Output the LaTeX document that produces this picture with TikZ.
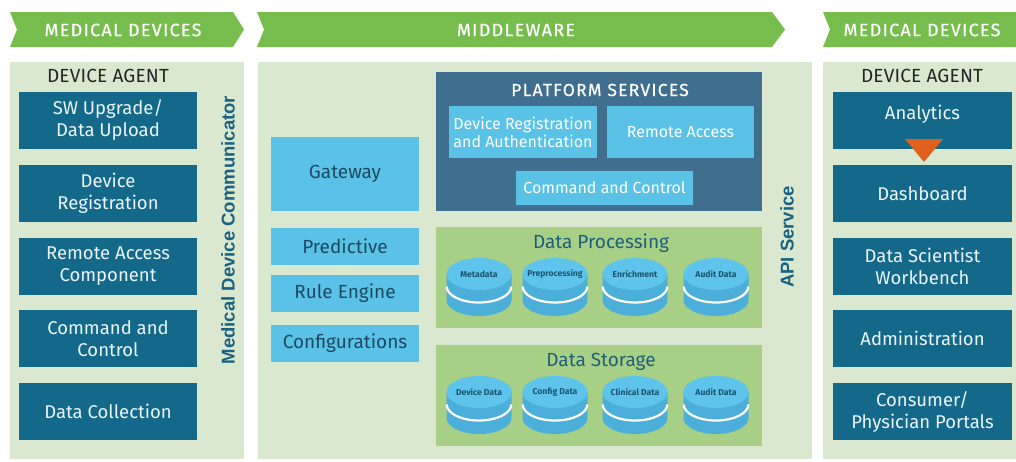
\documentclass[tikz,border=0pt]{standalone}
\usepackage{fontspec}
\setmainfont{Fira Sans}
\newfontfamily\vertfont{Liberation Sans}
\definecolor{bannergreen}{HTML}{77BD4E}
\definecolor{panelbg}{HTML}{DAE8CF}
\definecolor{darkbox}{HTML}{14698A}
\definecolor{platform}{HTML}{3F6E8E}
\definecolor{lightblue}{HTML}{5BC2E7}
\definecolor{midgreen}{HTML}{A8CF86}
\definecolor{tealtext}{HTML}{1F6078}
\definecolor{verttext}{HTML}{1A6282}
\definecolor{gwtext}{HTML}{1D4A62}
\definecolor{orangetri}{HTML}{E0601C}
\definecolor{cyltop}{HTML}{5EC4EC}
\definecolor{cylside}{HTML}{4BAFD9}
\definecolor{cyltext}{HTML}{1B5670}
\definecolor{boxtext}{HTML}{EAF5F8}
\newcommand\dbcyl[4]{%
  \fill[cylside] (#2-32.5,#3+12) -- (#2-32.5,#3+26) arc[start angle=180,end angle=360,x radius=32.5pt,y radius=16pt] -- (#2+32.5,#3+12) -- cycle;
  \fill[cylside] (#2-32.5,#3) -- (#2-32.5,#3+12) arc[start angle=180,end angle=360,x radius=32.5pt,y radius=16pt] -- (#2+32.5,#3) -- cycle;
  \draw[white,line width=2.2pt] (#2-32.3,#3+12.5) arc[start angle=180,end angle=360,x radius=32.3pt,y radius=16pt];
  \fill[cyltop] (#2,#3) ellipse[x radius=32.5pt,y radius=16pt];
  \node[cyllabel] (#1) at (#2,#3) {#4};
}
\begin{document}
\begin{tikzpicture}[x=1pt,y=-1pt,
  banner/.style={fill=bannergreen},
  bannertext/.style={text=white,font=\fontsize{18}{20}\selectfont\addfontfeature{FakeBold=0.5,LetterSpace=7}},
  panel/.style={fill=panelbg},
  agenttitle/.style={text=black!85,font=\fontsize{19}{21}\selectfont\addfontfeature{LetterSpace=1}},
  darkbox/.style={fill=darkbox,text=boxtext,align=center,inner sep=0pt,minimum width=178pt,minimum height=57pt,font=\fontsize{18.5}{22}\selectfont},
  lbox/.style={fill=lightblue,text=gwtext,align=center,inner sep=0pt,minimum width=148pt,font=\fontsize{19}{21}\selectfont},
  psub/.style={fill=lightblue,text=white,align=center,inner sep=0pt,font=\fontsize{16}{18}\selectfont},
  greenpanel/.style={fill=midgreen,minimum width=326pt,minimum height=101pt,inner sep=0pt},
  sectitle/.style={text=tealtext,font=\fontsize{19}{21}\selectfont},
  cyllabel/.style={text=cyltext,font=\fontsize{8.6}{9}\selectfont\bfseries,inner sep=0pt},
  verttitle/.style={rotate=90,text=verttext,font=\vertfont\bfseries\fontsize{18.5}{20}\selectfont}
]
\useasboundingbox (0,0) rectangle (1016,461);
% banners
\fill[banner] (10,12) -- (233,12) -- (244,29.5) -- (233,47) -- (10,47) -- (17,29.5) -- cycle;
\fill[banner] (257,12) -- (772,12) -- (785,29.5) -- (772,47) -- (257,47) -- (264,29.5) -- cycle;
\fill[banner] (823,12) -- (1016,12) -- (1016,47) -- (823,47) -- (830,29.5) -- cycle;
\node[bannertext] (b1) at (123,30) {MEDICAL DEVICES};
\node[bannertext] (b2) at (516,30) {MIDDLEWARE};
\node[bannertext] (b3) at (922,30) {MEDICAL DEVICES};
% panels
\fill[panel] (10,62) rectangle (244,459);
\fill[panel] (258,62) rectangle (812,459);
\fill[panel] (823,62) rectangle (1016,459);
% left column
\node[agenttitle] (la) at (108,76) {DEVICE AGENT};
\node[darkbox] (l1) at (108,120.5) {SW Upgrade/\\Data Upload};
\node[darkbox] (l2) at (108,193.5) {Device\\Registration};
\node[darkbox] (l3) at (108,266.5) {Remote Access\\Component};
\node[darkbox] (l4) at (108,338.5) {Command and\\Control};
\node[darkbox] (l5) at (108,411.5) {Data Collection};
\node[verttitle] (mdc) at (228,230) {Medical Device Communicator};
% middle left column
\node[lbox,minimum height=74pt] (gw) at (345,174) {Gateway};
\node[lbox,minimum height=37pt] (pred) at (345,246.5) {Predictive};
\node[lbox,minimum height=37pt] (rule) at (345,293.5) {Rule Engine};
\node[lbox,minimum height=37pt] (conf) at (345,343.5) {Configurations};
% platform services
\node[fill=platform,minimum width=326pt,minimum height=139pt,inner sep=0pt] (ps) at (599,141.5) {};
\node[text=white,font=\fontsize{17.5}{19}\selectfont\addfontfeature{FakeBold=0.5,LetterSpace=7}] (pst) at (600,90) {PLATFORM SERVICES};
\node[psub,minimum width=148pt,minimum height=52pt] (dra) at (523,132) {Device Registration\\and Authentication};
\node[psub,minimum width=147pt,minimum height=52pt] (ra) at (680.5,132) {Remote Access};
\node[psub,minimum width=177pt,minimum height=34pt] (cc) at (604.5,188) {Command and Control};
% data processing
\node[greenpanel] (dp) at (599,277.5) {};
\node[sectitle] (dpt) at (601,243) {Data Processing};
\dbcyl{c1}{479}{274}{Metadata}
\dbcyl{c2}{555}{274}{Preprocessing}
\dbcyl{c3}{635}{274}{Enrichment}
\dbcyl{c4}{716}{274}{Audit Data}
% data storage
\node[greenpanel] (ds) at (599,395.5) {};
\node[sectitle] (dst) at (601,362) {Data Storage};
\dbcyl{s1}{479}{392}{Device Data}
\dbcyl{s2}{555}{392}{Config Data}
\dbcyl{s3}{635}{392}{Clinical Data}
\dbcyl{s4}{716}{392}{Audit Data}
\node[verttitle] (api) at (787,237) {API Service};
% right column
\node[agenttitle] (ra0) at (922,76) {DEVICE AGENT};
\node[darkbox,minimum width=179pt] (r1) at (922.5,120.5) {};
\node[text=boxtext,font=\fontsize{18.5}{22}\selectfont] (r1t) at (922.5,114.5) {Analytics};
\node[darkbox,minimum width=179pt] (r2) at (922.5,193.5) {Dashboard};
\node[darkbox,minimum width=179pt] (r3) at (922.5,266.5) {Data Scientist\\Workbench};
\node[darkbox,minimum width=179pt] (r4) at (922.5,338.5) {Administration};
\node[darkbox,minimum width=179pt] (r5) at (922.5,411.5) {Consumer/\\Physician Portals};
\fill[orangetri] (905,139) -- (943,139) -- (924,162) -- cycle;
\end{tikzpicture}
\end{document}
